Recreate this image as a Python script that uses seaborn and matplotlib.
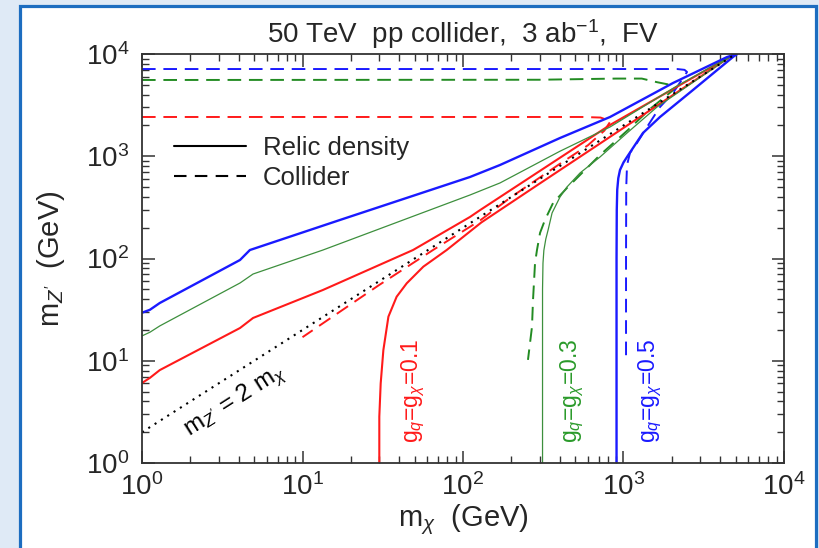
import numpy as np
import pandas as pd
import matplotlib
matplotlib.use("Agg")
import matplotlib.pyplot as plt
from matplotlib.lines import Line2D
from matplotlib.patches import Rectangle
import seaborn as sns

# ---- curves: dark-matter mass m_chi (GeV) vs mediator mass m_Z' (GeV) ----
# relic-density contours, traced up the upper branch and back down the lower one
relic_01_mchi = [1, 1.12, 1.29, 4.08, 4.92, 13.4, 48.8, 110.6, 128, 824, 4900,
                 2000, 800, 300, 130, 79.1, 56.6, 44.6, 38.6, 34.3, 31.9, 30.7, 30.1, 30.1]
relic_01_mz = [6.06, 6.8, 8.1, 20.9, 26.2, 49.2, 121, 255, 298, 2022, 10000,
               3900, 1500, 540, 225, 121, 83.2, 57.2, 42.3, 27, 12.7, 6.0, 2.84, 1]

relic_03_mchi = [1, 1.12, 1.29, 4.08, 4.92, 13.4, 110.6, 170, 402, 824, 2100, 4900,
                 1618, 1052, 714, 536, 444, 402, 359, 339, 328, 319, 315, 313, 313]
relic_03_mz = [17.5, 19, 21.9, 57.6, 70.5, 121, 418, 548, 1120, 1932, 4756, 10000,
               3033, 1688, 984, 686, 500, 399, 279, 190, 155, 120, 90, 50, 1]

relic_05_mchi = [1, 1.12, 1.29, 4.08, 4.7, 17.1, 110.6, 170, 402, 824, 2034, 4415, 5100,
                 4810, 2710, 1688, 1322, 1146, 1052, 1000, 951, 928, 914, 908, 905, 905]
relic_05_mz = [29.5, 31.5, 36.7, 96.7, 121, 238, 627, 821, 1508, 2420, 5203, 9340, 10000,
               9350, 4446, 2421, 1688, 1205, 984, 870, 734, 610, 470, 300, 100, 1]

# collider reach
coll_01_mchi = [1, 560, 720, 830, 760, 600, 400, 200, 128, 65, 30, 10]
coll_01_mz = [2421, 2421, 2390, 2200, 1780, 1280, 840, 400, 236, 121, 55, 17]

coll_03_mchi = [1, 300, 900, 1300, 1618, 1950, 2150, 1463, 1066, 714, 444, 364, 324,
                302, 289, 281, 273, 269, 254]
coll_03_mz = [5570, 5600, 5750, 5750, 5300, 5000, 4750, 2897, 1807, 1028, 489, 349, 238,
              178, 121, 90, 39, 21.4, 10.2]

coll_05_mchi = [1, 2154, 2400, 2488, 2034, 1688, 1401, 1213, 1097, 1052, 1040, 1037, 1037]
coll_05_mz = [7130, 7130, 7000, 6670, 4155, 3033, 1932, 1349, 1076, 821, 500, 100, 10.2]

# kinematic threshold m_Z' = 2 m_chi
thresh_mchi = [1, 5000]
thresh_mz = [2, 10000]

RED, GREEN, GREEN_THIN, BLUE = "#ff1a1a", "#228b22", "#3d8f3d", "#1a1aff"

sns.set_style("ticks")
plt.rcParams["font.family"] = ["Liberation Sans", "DejaVu Sans"]
plt.rcParams["mathtext.fontset"] = "custom"
plt.rcParams["mathtext.rm"] = "Liberation Sans"
plt.rcParams["mathtext.it"] = "Liberation Sans:italic"
plt.rcParams["mathtext.bf"] = "Liberation Sans:bold"

fig = plt.figure(figsize=(8.19, 5.48), dpi=100)
fig.patch.set_facecolor("#dfeaf6")
panel = Rectangle((19.5 / 819, -0.05), (815.5 - 19.5) / 819, 1.05 - 5.5 / 548,
                  transform=fig.transFigure, facecolor="white", edgecolor="#1c6dc0",
                  linewidth=2.3, zorder=-10)
fig.patches.append(panel)

ax = fig.add_axes([142 / 819, 85 / 548, (784 - 142) / 819, (463 - 54) / 548])
ax.set_facecolor("white")


def draw(xs, ys, color, lw, ls="-"):
    df = pd.DataFrame({"mchi": xs, "mz": ys})
    sns.lineplot(data=df, x="mchi", y="mz", sort=False, estimator=None, color=color,
                 linewidth=lw, linestyle=ls, ax=ax, legend=False)


dash = (0, (7, 4))
draw(coll_01_mchi, coll_01_mz, RED, 1.4, dash)
draw(coll_03_mchi, coll_03_mz, GREEN, 1.4, dash)
draw(coll_05_mchi, coll_05_mz, BLUE, 1.4, dash)
draw(relic_01_mchi, relic_01_mz, RED, 1.5)
draw(relic_03_mchi, relic_03_mz, GREEN_THIN, 0.9)
draw(relic_05_mchi, relic_05_mz, BLUE, 1.7)
draw(thresh_mchi, thresh_mz, "black", 1.5, (0, (1, 2.6)))

ax.set_xscale("log")
ax.set_yscale("log")
ax.set_xlim(1, 1e4)
ax.set_ylim(1, 1e4)

for s in ax.spines.values():
    s.set_color("#333333")
    s.set_linewidth(1.3)
ax.tick_params(which="both", direction="in", top=True, right=True, color="#333333",
               labelsize=20)
ax.tick_params(which="major", length=9, width=1.1)
ax.tick_params(which="minor", length=5, width=1.0)
ax.tick_params(axis="x", pad=7)
ax.tick_params(axis="y", pad=9)

ax.set_xlabel(r"m$_\chi$  (GeV)", fontsize=21, labelpad=1)
ax.set_ylabel(r"m$_{Z'}$  (GeV)", fontsize=21, labelpad=14)
ax.set_title(r"50 TeV  pp collider,  3 ab$^{-1}$,  FV", fontsize=20, pad=8)

handles = [Line2D([], [], color="black", lw=1.5, ls="-"),
           Line2D([], [], color="black", lw=1.5, ls=(0, (6, 4)))]
ax.legend(handles, ["Relic density", "Collider"], loc="upper left",
          bbox_to_anchor=(0.03, 0.83), frameon=False, fontsize=18.5,
          handlelength=2.8, handletextpad=0.65, labelspacing=0.2, borderpad=0)

ax.text(48.8, 5.06, r"g$_q$=g$_\chi$=0.1", color=RED, rotation=90, fontsize=16.5,
        ha="center", va="center")
ax.text(478, 5.06, r"g$_q$=g$_\chi$=0.3", color="#2a9a2a", rotation=90, fontsize=16.5,
        ha="center", va="center")
ax.text(1462, 5.06, r"g$_q$=g$_\chi$=0.5", color=BLUE, rotation=90, fontsize=16.5,
        ha="center", va="center")
ax.text(3.8, 3.95, r"m$_{Z'}$ = 2 m$_\chi$", color="black", rotation=32.5, fontsize=17.5,
        ha="center", va="center", rotation_mode="anchor")

fig.savefig("out.png", dpi=100, facecolor=fig.get_facecolor())
